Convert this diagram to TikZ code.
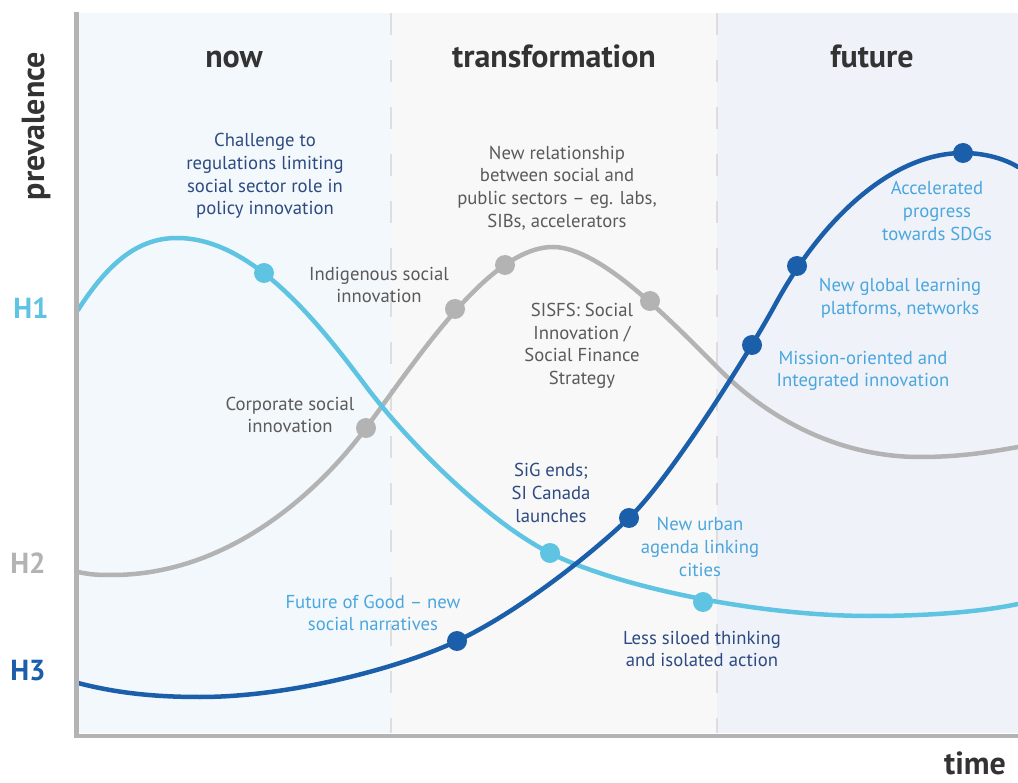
\documentclass[tikz,border=0pt]{standalone}
\usepackage{fontspec}
\setmainfont{PT Sans}
\usetikzlibrary{calc}

\definecolor{axisgray}{HTML}{B3B3B3}
\definecolor{dashgray}{HTML}{DEDEDE}
\definecolor{bgnow}{HTML}{F3F8FC}
\definecolor{bgtrans}{HTML}{F8F8F8}
\definecolor{bgfuture}{HTML}{EFF3F9}
\definecolor{hone}{HTML}{5EC4E2}
\definecolor{htwo}{HTML}{B3B3B3}
\definecolor{hthree}{HTML}{1B5FAB}
\definecolor{headtxt}{HTML}{333333}
\definecolor{navytxt}{HTML}{2D4A82}
\definecolor{graytxt}{HTML}{5A5A5A}
\definecolor{bluetxt}{HTML}{4BA6DE}

\tikzset{
  header/.style={font=\bfseries\fontsize{32}{36}\selectfont, text=headtxt, inner sep=0pt},
  horizon/.style={font=\bfseries\fontsize{29}{34}\selectfont, inner sep=0pt},
  label/.style={font=\fontsize{18.7}{22.6}\selectfont, align=center, inner sep=0pt},
  curve/.style={line width=4.5pt, line cap=round},
  dot/.style={circle, fill=#1, minimum size=20pt, inner sep=0pt},
  divider/.style={dashgray, line width=2.5pt, dash pattern=on 22pt off 25pt},
}

\begin{document}
\begin{tikzpicture}[x=1pt, y=-1pt]
  \useasboundingbox (0,0) rectangle (1018,783);

  % period panels
  \fill[bgnow] (78,13) rectangle (391,733);
  \fill[bgtrans] (391,13) rectangle (717,733);
  \fill[bgfuture] (717,13) rectangle (1018,733);
  \draw[divider] (391,13) -- (391,733);
  \draw[divider] (717,13) -- (717,733);

  % period headings
  \node[header, anchor=base] (now) at (234,68) {now};
  \node[header, anchor=base] (trans) at (554,68) {transformation};
  \node[header, anchor=base] (fut) at (872,68) {future};

  % horizon names
  \node[horizon, text=hone] (hlone) at (31,308) {H1};
  \node[horizon, text=htwo] (hltwo) at (28,563) {H2};
  \node[horizon, text=hthree] (hlthree) at (28,671) {H3};

  % H2: rises through the transformation period, falls in the future
  \draw[curve, htwo] (78,572) .. controls (92,575) and (100,575) .. (112,575)
    .. controls (230,575) and (320,490) .. (366,428)
    .. controls (420,355) and (490,247) .. (553,247)
    .. controls (600,247) and (670,320) .. (720,370)
    .. controls (770,420) and (840,457) .. (920,457)
    .. controls (960,457) and (990,452) .. (1018,447);
  % H1: dominant now, declining afterwards
  \draw[curve, hone] (78,310) .. controls (110,260) and (140,238) .. (177,238)
    .. controls (250,238) and (315,318) .. (365,385)
    .. controls (410,445) and (490,523) .. (550,553)
    .. controls (620,588) and (760,616) .. (870,616)
    .. controls (940,616) and (990,610) .. (1018,604);
  % H3: emerging, dominant in the future
  \draw[curve, hthree] (78,683) .. controls (120,694) and (160,697) .. (200,697)
    .. controls (290,697) and (400,668) .. (457,641)
    .. controls (520,611) and (590,555) .. (629,518)
    .. controls (670,479) and (750,351) .. (775,305)
    .. controls (820,222) and (890,153) .. (963,153)
    .. controls (985,153) and (1005,159) .. (1018,167);

  % axes
  \draw[axisgray, line width=4.5pt] (76.5,12) -- (76.5,736) -- (1018,736);

  % milestones
  \node[dot=hone] (ha) at (264,273) {};
  \node[dot=hone] (hb) at (550,553) {};
  \node[dot=hone] (hc) at (703,602) {};
  \node[dot=htwo] (ga) at (366,428) {};
  \node[dot=htwo] (gb) at (455,309) {};
  \node[dot=htwo] (gc) at (505,265) {};
  \node[dot=htwo] (gd) at (650,301) {};
  \node[dot=hthree] (ba) at (457,641) {};
  \node[dot=hthree] (bb) at (629,518) {};
  \node[dot=hthree] (bc) at (752,345) {};
  \node[dot=hthree] (bd) at (797,266) {};
  \node[dot=hthree] (be) at (963,153) {};

  % milestone texts
  \node[label, text=navytxt] (tchal) at (265,176) {Challenge to\\regulations limiting\\social sector role in\\policy innovation};
  \node[label, text=graytxt] (trel) at (557,188) {New relationship\\between social and\\public sectors -- eg. labs,\\SIBs, accelerators};
  \node[label, text=graytxt] (tind) at (379,285) {Indigenous social\\innovation};
  \node[label, text=graytxt] (tsisfs) at (582,346) {SISFS: Social\\Innovation /\\Social Finance\\Strategy};
  \node[label, text=graytxt] (tcorp) at (290,415) {Corporate social\\innovation};
  \node[label, text=navytxt] (tsig) at (551,493) {SiG ends;\\SI Canada\\launches};
  \node[label, text=bluetxt] (turban) at (700,547) {New urban\\agenda linking\\cities};
  \node[label, text=bluetxt] (tgood) at (373,613) {Future of Good -- new\\social narratives};
  \node[label, text=navytxt] (tsilo) at (702,649) {Less siloed thinking\\and isolated action};
  \node[label, text=bluetxt] (tsdg) at (937,211) {Accelerated\\progress\\towards SDGs};
  \node[label, text=bluetxt] (tglob) at (900,298) {New global learning\\platforms, networks};
  \node[label, text=bluetxt] (tmiss) at (863,371) {Mission-oriented and\\Integrated innovation};

  % axis titles
  \node[header, rotate=90] (prev) at (37,126) {prevalence};
  \node[header, anchor=base] (time) at (975,774) {time};
\end{tikzpicture}
\end{document}
